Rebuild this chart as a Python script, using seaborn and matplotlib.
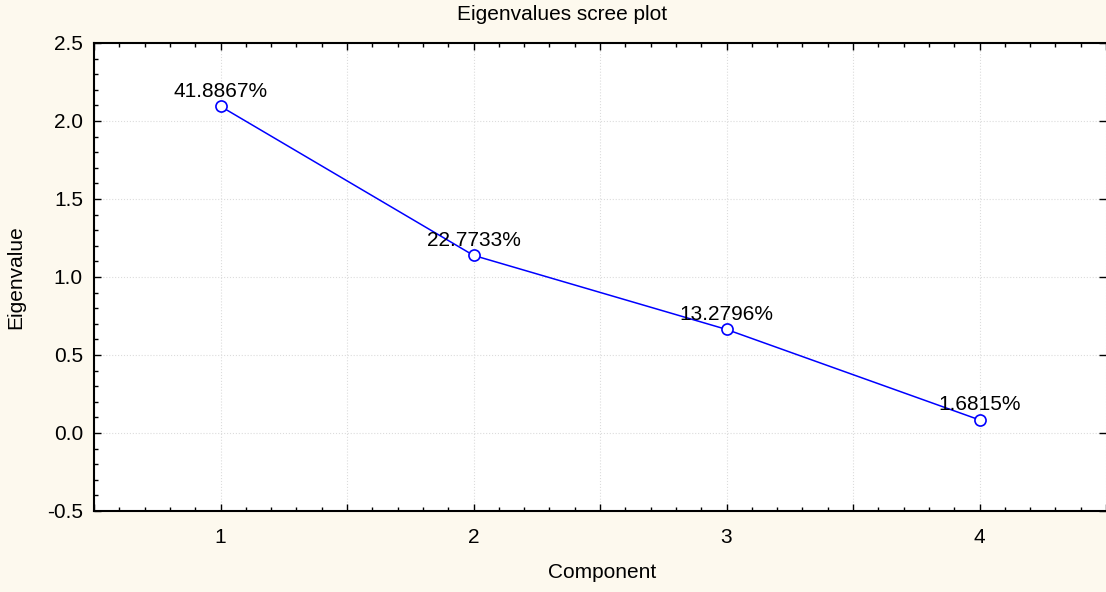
import matplotlib
matplotlib.use("Agg")
import matplotlib.pyplot as plt
import seaborn as sns
import pandas as pd
from matplotlib.ticker import MultipleLocator, FuncFormatter

components = [1, 2, 3, 4]
eigenvalues = [2.0943, 1.1387, 0.6640, 0.0841]
pct_labels = ["41.8867%", "22.7733%", "13.2796%", "1.6815%"]

sns.set_theme(style="white")
plt.rcParams['font.family'] = ['Liberation Sans', 'DejaVu Sans']
plt.rcParams['text.color'] = 'black'
plt.rcParams['axes.labelcolor'] = 'black'

bg = "#fdf9ee"
fig = plt.figure(figsize=(11.06, 5.92), dpi=100, facecolor=bg)
ax = fig.add_axes([94/1106, 1-511/592, 1-94/1106, (511-43)/592])
ax.set_facecolor("white")

df = pd.DataFrame({"Component": components, "Eigenvalue": eigenvalues})
sns.lineplot(data=df, x="Component", y="Eigenvalue", ax=ax, color="#0000ff",
             linewidth=1.1, marker="o", markersize=8, markerfacecolor="white",
             markeredgecolor="#0000ff", markeredgewidth=1.2)

for x, y, t in zip(components, eigenvalues, pct_labels):
    ax.annotate(t, (x, y), xytext=(0, 7), textcoords="offset points",
                ha="center", va="baseline", fontsize=15, color="black")

ax.set_xlim(0.5, 4.5)
ax.set_ylim(-0.5, 2.5)
ax.xaxis.set_major_locator(MultipleLocator(0.5))
ax.xaxis.set_minor_locator(MultipleLocator(0.1))
ax.yaxis.set_major_locator(MultipleLocator(0.5))
ax.yaxis.set_minor_locator(MultipleLocator(0.1))
ax.xaxis.set_major_formatter(FuncFormatter(lambda v, p: f"{int(round(v))}" if abs(v - round(v)) < 1e-6 else ""))
ax.yaxis.set_major_formatter(FuncFormatter(lambda v, p: f"{v:.1f}"))

ax.tick_params(axis="both", which="both", direction="in", colors="black",
               top=True, right=True, bottom=True, left=True, labelsize=15)
ax.tick_params(axis="both", which="major", length=5, width=1)
ax.tick_params(axis="both", which="minor", length=3, width=1)
ax.tick_params(axis="y", which="minor", right=False)
ax.tick_params(axis="x", which="major", pad=12)
ax.tick_params(axis="y", which="major", pad=8)

ax.grid(True, which="major", linestyle=":", color="#dcdcdc", linewidth=0.8)
for s in ["left", "bottom", "top"]:
    ax.spines[s].set_visible(True)
    ax.spines[s].set_color("black")
    ax.spines[s].set_linewidth(1.5)
ax.spines["right"].set_visible(False)

ax.set_xlabel("Component", fontsize=15, va="center", color="black")
ax.set_ylabel("Eigenvalue", fontsize=15, va="center", color="black")
ax.xaxis.set_label_coords((602 - 94) / 1012, (511 - 572) / 468)
ax.yaxis.set_label_coords((16 - 94) / 1012, 0.5)
fig.text(562 / 1106, 1 - 15 / 592, "Eigenvalues scree plot", ha="center", va="center",
         fontsize=15, color="black")

fig.savefig("out.png", dpi=100, facecolor=bg)
